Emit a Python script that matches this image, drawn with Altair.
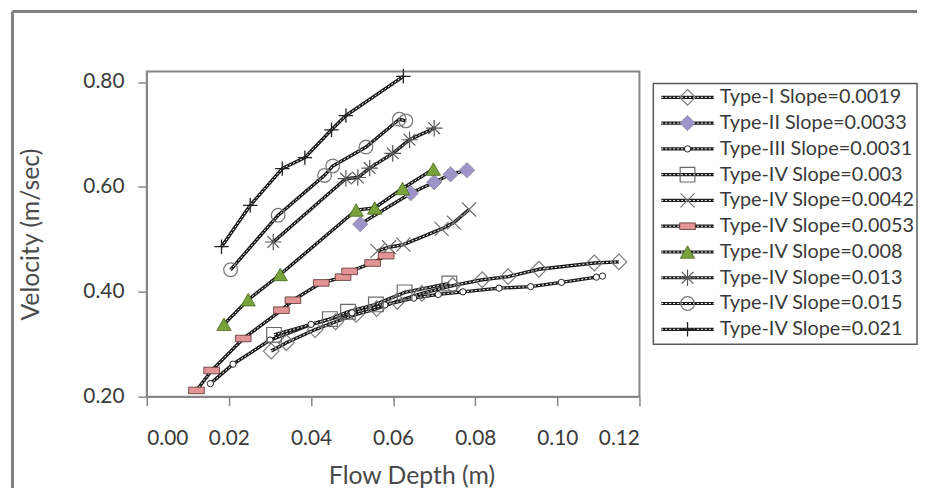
import altair as alt
import pandas as pd

names = [
    "Type-I Slope=0.0019", "Type-II Slope=0.0033", "Type-III Slope=0.0031",
    "Type-IV Slope=0.003", "Type-IV Slope=0.0042", "Type-IV Slope=0.0053",
    "Type-IV Slope=0.008", "Type-IV Slope=0.013", "Type-IV Slope=0.015",
    "Type-IV Slope=0.021",
]

depth_t1 = [0.0303, 0.034, 0.041, 0.046, 0.051, 0.056, 0.061, 0.067, 0.0745, 0.0817, 0.088, 0.0955, 0.109, 0.115]
vel_t1 = [0.287, 0.303, 0.328, 0.343, 0.357, 0.368, 0.382, 0.397, 0.412, 0.423, 0.429, 0.443, 0.455, 0.457]

depth_t2 = [0.052, 0.0643, 0.070, 0.074, 0.078]
vel_t2 = [0.529, 0.588, 0.609, 0.624, 0.632]

depth_t3 = [0.0155, 0.021, 0.030, 0.040, 0.050, 0.058, 0.065, 0.071, 0.077, 0.0858, 0.0935, 0.101, 0.1095, 0.111]
vel_t3 = [0.225, 0.262, 0.308, 0.338, 0.360, 0.375, 0.388, 0.395, 0.400, 0.407, 0.410, 0.418, 0.428, 0.430]

depth_s003 = [0.031, 0.0446, 0.049, 0.0558, 0.0628, 0.0737]
vel_s003 = [0.318, 0.348, 0.362, 0.376, 0.399, 0.416]

depth_s0042 = [0.0562, 0.059, 0.0625, 0.0718, 0.0748, 0.0785]
vel_s0042 = [0.478, 0.485, 0.490, 0.520, 0.532, 0.557]

depth_s0053 = [0.0121, 0.0158, 0.0235, 0.0328, 0.0356, 0.0425, 0.0478, 0.0494, 0.055, 0.0583]
vel_s0053 = [0.212, 0.250, 0.311, 0.365, 0.384, 0.417, 0.428, 0.439, 0.455, 0.469]

depth_s008 = [0.0188, 0.0247, 0.0325, 0.051, 0.0555, 0.0623, 0.0698]
vel_s008 = [0.338, 0.385, 0.433, 0.556, 0.560, 0.597, 0.634]

depth_s013 = [0.0308, 0.0485, 0.0514, 0.0543, 0.0599, 0.064, 0.070]
vel_s013 = [0.495, 0.616, 0.618, 0.636, 0.664, 0.690, 0.712]

depth_s015 = [0.0204, 0.032, 0.0433, 0.0453, 0.0534, 0.0615, 0.0631]
vel_s015 = [0.442, 0.546, 0.622, 0.640, 0.676, 0.729, 0.726]

depth_s021 = [0.0182, 0.0252, 0.033, 0.0385, 0.0450, 0.0485, 0.0625]
vel_s021 = [0.486, 0.565, 0.635, 0.656, 0.709, 0.736, 0.811]

x_ticks = [0.00, 0.02, 0.04, 0.06, 0.08, 0.10, 0.12]
y_ticks = [0.20, 0.40, 0.60, 0.80]

all_depths = [depth_t1, depth_t2, depth_t3, depth_s003, depth_s0042, depth_s0053,
              depth_s008, depth_s013, depth_s015, depth_s021]
all_vels = [vel_t1, vel_t2, vel_t3, vel_s003, vel_s0042, vel_s0053,
            vel_s008, vel_s013, vel_s015, vel_s021]

rows = []
for i, (n, ds, vs) in enumerate(zip(names, all_depths, all_vels)):
    for j, (d, v) in enumerate(zip(ds, vs)):
        rows.append({"series": n, "sid": i, "ord": j, "d": d, "v": v})
df = pd.DataFrame(rows)

leg_df = pd.DataFrame({"series": names, "idx": list(range(len(names)))})
dummy = pd.DataFrame({"k": [0]})

FONT = "Lato"
AXC = "#868686"
TXT = "#3a3a3a"

XPATH = "M-1,-1L1,1M-1,1L1,-1"
PLUS = "M-1,0L1,0M0,-1L0,1"
AST = "M-1,0L1,0M0,-1L0,1M-0.7,-0.7L0.7,0.7M-0.7,0.7L0.7,-0.7"
RECT = "M-1,-0.42L1,-0.42L1,0.42L-1,0.42Z"

styles = [
    dict(shape="diamond", size=250, filled=False, stroke="#7a7a7a", strokeWidth=1.2),
    dict(shape="diamond", size=240, filled=True, fill="#9E94CA", stroke="#8a8a9a", strokeWidth=0.8),
    dict(shape="circle", size=40, filled=True, fill="white", stroke="#222222", strokeWidth=1),
    dict(shape="square", size=220, filled=False, stroke="#6a6a6a", strokeWidth=1.2),
    dict(shape=XPATH, size=200, filled=False, stroke="#6f6f6f", strokeWidth=1.2),
    dict(shape=RECT, size=250, filled=True, fill="#E39494", stroke="#5a3030", strokeWidth=0.8),
    dict(shape="triangle-up", size=210, filled=True, fill="#78A23B", stroke="#46661c", strokeWidth=0.8),
    dict(shape=AST, size=280, filled=False, stroke="#555555", strokeWidth=1.2),
    dict(shape="circle", size=190, filled=False, stroke="#7a7a7a", strokeWidth=1.3),
    dict(shape=PLUS, size=210, filled=False, stroke="#222222", strokeWidth=1.3),
]

X = alt.X(
    "d:Q",
    scale=alt.Scale(domain=[0, 0.12], nice=False, zero=False),
    axis=alt.Axis(values=x_ticks, format=".2f", title="Flow Depth (m)",
                  titleX=267, titleY=80, titleAlign="center", titleBaseline="middle"),
)
Y = alt.Y(
    "v:Q",
    scale=alt.Scale(domain=[0.2, 0.82], nice=False, zero=False),
    axis=alt.Axis(values=y_ticks, format=".2f", title="Velocity (m/sec)",
                  titleX=-117, titleY=164, titleAlign="center", titleBaseline="middle"),
)

base = alt.Chart(df).encode(x=X, y=Y)

line_layers = []
point_layers = []
for i in range(len(names)):
    sub = base.transform_filter(alt.datum.sid == i)
    line_layers.append(sub.mark_line(color="#1a1a1a", strokeWidth=3.4).encode(order="ord:Q"))
    line_layers.append(sub.mark_line(color="white", strokeWidth=1, strokeDash=[2, 2]).encode(order="ord:Q"))
    point_layers.append(sub.mark_point(opacity=1, **styles[i]))

main = alt.layer(*line_layers, *point_layers)

LY = alt.Y("idx:Q", scale=alt.Scale(domain=[0, 9], range=[26, 260], nice=False, zero=False), axis=None)
leg = alt.Chart(leg_df)
box = alt.Chart(dummy).mark_rect(fill="white", stroke="#595959", strokeWidth=1.5).encode(
    x=alt.value(511), x2=alt.value(777), y=alt.value(12), y2=alt.value(275))
leg_b = leg.mark_rule(color="#1a1a1a", strokeWidth=3.2).encode(x=alt.value(519), x2=alt.value(572), y=LY)
leg_w = leg.mark_rule(color="white", strokeWidth=1, strokeDash=[2, 2]).encode(x=alt.value(519), x2=alt.value(572), y=LY)
leg_pts = [
    leg.transform_filter(alt.datum.idx == i).mark_point(opacity=1, **styles[i]).encode(x=alt.value(545.5), y=LY)
    for i in range(len(names))
]
leg_txt = leg.mark_text(align="left", baseline="middle", font=FONT, fontSize=20, color=TXT).encode(
    x=alt.value(578), y=LY, text="series:N")
legend = alt.layer(box, leg_b, leg_w, *leg_pts, leg_txt)

frame_l = alt.Chart(dummy).mark_rule(color="#808080", strokeWidth=3).encode(
    x=alt.value(-135.5), y=alt.value(-60.5), y2=alt.value(420))
frame_t = alt.Chart(dummy).mark_rule(color="#808080", strokeWidth=3).encode(
    x=alt.value(-135.5), x2=alt.value(777), y=alt.value(-60.5))

chart = (
    alt.layer(main, legend, frame_l, frame_t)
    .resolve_scale(y="independent")
    .properties(width=497, height=328, padding={"left": 3, "top": 0, "right": 0, "bottom": 0})
    .configure_view(stroke=AXC, strokeWidth=2)
    .configure_axis(
        grid=False, domainColor=AXC, domainWidth=1.5, tickColor=AXC, tickSize=9, tickWidth=1.5,
        labelFont=FONT, labelFontSize=21, labelColor=TXT, titleFont=FONT, titleFontSize=25,
        titleColor="#4a4a4a", titleFontWeight="normal",
    )
    .configure_axisY(labelPadding=14)
    .configure_axisX(labelPadding=22)
)

chart.save("out.html", embed_options={"renderer": "svg", "actions": False})
